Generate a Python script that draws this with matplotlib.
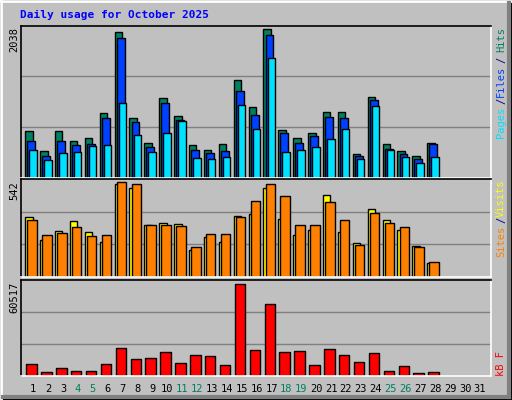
import matplotlib
matplotlib.use("Agg")
import matplotlib.pyplot as plt
from matplotlib.lines import Line2D
import numpy as np

days = list(range(1, 32))
weekend = [4, 5, 11, 12, 18, 19, 25, 26]
hits = [641, 364, 641, 503, 544, 890, 1997, 821, 475, 1097, 848, 447, 378, 461,
        1346, 973, 2038, 655, 544, 613, 904, 904, 323, 1111, 461, 364, 295, 475]
files = [503, 295, 503, 447, 461, 821, 1927, 765, 420, 1028, 793, 378, 337, 364,
         1194, 862, 1969, 613, 475, 572, 835, 821, 295, 1070, 392, 323, 254, 461]
pages = [378, 240, 337, 350, 433, 447, 1028, 586, 350, 613, 779, 267, 254, 281,
         1001, 669, 1651, 350, 378, 420, 530, 669, 254, 987, 378, 281, 198, 281]
visits = [342, 213, 260, 319, 254, 202, 530, 507, 295, 307, 301, 155, 225, 202,
          348, 360, 507, 331, 237, 266, 466, 254, 196, 389, 325, 266, 178, 78]
sites = [325, 237, 248, 284, 231, 237, 542, 530, 295, 295, 290, 172, 243, 243,
         342, 430, 530, 460, 295, 295, 425, 325, 184, 366, 307, 284, 172, 84]
kbytes = [8172, 2871, 5522, 3534, 3534, 8172, 18111, 10822, 11485, 15460, 8834,
          13472, 12810, 7509, 60517, 16785, 47264, 15460, 16123, 7509, 17448,
          13472, 9497, 14798, 3534, 6847, 2209, 2871]

W, H = 512, 400
fig = plt.figure(figsize=(5.12, 4.0), dpi=100, facecolor="#c0c0c0")
mono = "DejaVu Sans Mono"

def fx(px): return px / W
def fy(py): return 1 - py / H

# border bevel
fig.add_artist(Line2D([fx(1), fx(1)], [fy(1), fy(399)], color="white", lw=2, transform=fig.transFigure))
fig.add_artist(Line2D([fx(1), fx(511)], [fy(1), fy(1)], color="white", lw=2, transform=fig.transFigure))
fig.add_artist(Line2D([fx(509), fx(509)], [fy(3), fy(397)], color="#808080", lw=3, transform=fig.transFigure))
fig.add_artist(Line2D([fx(3), fx(509)], [fy(397), fy(397)], color="#808080", lw=3, transform=fig.transFigure))
fig.add_artist(plt.Rectangle((0, 0), 1, 1, fill=False, ec="black", lw=1.5, transform=fig.transFigure))

x0, x1 = 20.7, 491
def mkax(top, bot):
    ax = fig.add_axes([fx(x0), fy(bot), fx(x1 - x0), (bot - top) / H])
    ax.set_facecolor("#c0c0c0")
    ax.set_xlim(0.154, 31.74)
    for s in ["top", "left"]:
        ax.spines[s].set_color("black"); ax.spines[s].set_linewidth(1.2)
    for s in ["bottom", "right"]:
        ax.spines[s].set_color("white"); ax.spines[s].set_linewidth(1.2)
    ax.tick_params(length=0, labelleft=False, labelbottom=False)
    ax.set_axisbelow(True)
    ax.grid(axis="y", color="#808080", lw=1)
    ax.set_xticks([])
    return ax

d = np.arange(1, len(hits) + 1)
ax1 = mkax(25.5, 177.5)
ax1.set_ylim(0, 2093)
ax1.set_yticks([2093 / 3, 2093 * 2 / 3])
kw = dict(align="edge", edgecolor="black", linewidth=1)
ax1.bar(d - 0.54, hits, width=0.50, color="#008060", **kw)
ax1.bar(d - 0.40, files, width=0.53, color="#0040ff", **kw)
ax1.bar(d - 0.27, pages, width=0.50, color="#00e0ff", **kw)

ax2 = mkax(179, 277)
ax2.set_ylim(0, 557.7)
ax2.set_yticks([557.7 / 3, 557.7 * 2 / 3])
ax2.bar(d - 0.54, visits, width=0.50, color="#ffff00", **kw)
ax2.bar(d - 0.40, sites, width=0.63, color="#ff8000", **kw)

ax3 = mkax(280, 376)
ax3.set_ylim(0, 62946)
ax3.set_yticks([62946 / 3, 62946 * 2 / 3])
ax3.bar(d - 0.47, kbytes, width=0.70, color="#ff0000", **kw)

# day labels
for dd in days:
    xp = 33.3 + (dd - 1) * 14.89
    fig.text(fx(xp), fy(389), str(dd), ha="center", va="center", fontsize=7.5,
             family=mono, color="#008060" if dd in weekend else "black")

fig.text(fx(20), fy(15), "Daily usage for October 2025", ha="left", va="center",
         fontsize=8, family=mono, weight="bold", color="#0000ff")

for txt, yc in [("2038", 39), ("542", 191), ("60517", 297)]:
    fig.text(fx(14), fy(yc), txt, rotation=90, ha="center", va="center",
             fontsize=7.5, family=mono, color="black")

rx = fx(501)
for txt, yc, col in [("Hits", 40, "#008060"), ("/", 60, "#000080"), ("Files", 81, "#0040ff"),
                     ("/", 101, "#000080"), ("Pages", 122, "#00e0ff"),
                     ("Visits", 198, "#ffff00"), ("/", 220, "#000080"), ("Sites", 241, "#ff8000"),
                     ("kB F", 364, "#ff0000")]:
    fig.text(rx, fy(yc), txt, rotation=90, ha="center", va="center",
             fontsize=7.5, family=mono, color=col)

fig.savefig("out.png", dpi=100, facecolor=fig.get_facecolor())
